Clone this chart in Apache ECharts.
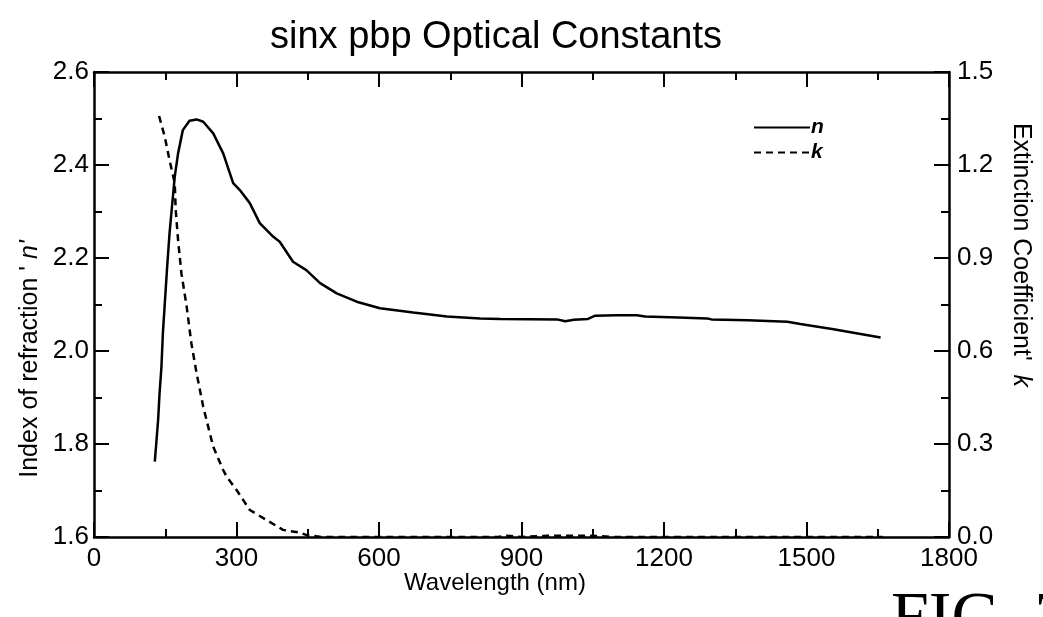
<!DOCTYPE html>
<html>
<head>
<meta charset="utf-8">
<script src="https://cdn.jsdelivr.net/npm/echarts@6/dist/echarts.min.js"></script>
<style>
html,body{margin:0;padding:0;background:#fff;}
#c{width:1043px;height:617px;}
</style>
</head>
<body>
<div id="c"></div>
<script>
// Data
var titleText = 'sinx pbp Optical Constants';
var xTicks = [0, 300, 600, 900, 1200, 1500, 1800];
var nTicks = [1.6, 1.8, 2.0, 2.2, 2.4, 2.6];
var kTicks = [0.0, 0.3, 0.6, 0.9, 1.2, 1.5];

var nWavelength = [128,135,138,142,145,154,159,170,177,187,201,216,230,251,272,293,307,328,349,377,391,419,447,476,511,553,602,672,743,813,855,975,992,1010,1040,1055,1100,1143,1160,1230,1291,1300,1376,1460,1487,1557,1656];
var nValues =     [1.762,1.852,1.909,1.966,2.038,2.181,2.253,2.375,2.425,2.475,2.495,2.498,2.493,2.468,2.425,2.361,2.346,2.318,2.275,2.246,2.235,2.192,2.174,2.146,2.124,2.106,2.092,2.083,2.074,2.070,2.069,2.068,2.064,2.067,2.069,2.076,2.077,2.077,2.074,2.072,2.070,2.068,2.066,2.063,2.058,2.047,2.029];

var kWavelength = [137,149,159,170,172,177,184,195,205,216,230,251,272,279,300,328,363,398,433,448,480,600,850,870,900,955,1000,1045,1100,1660];
var kValues =     [1.358,1.291,1.216,1.141,1.055,0.958,0.851,0.744,0.625,0.528,0.420,0.291,0.216,0.195,0.152,0.087,0.055,0.023,0.014,0.006,0.0,0.0,0.0,0.004,0.0,0.004,0.004,0.004,0.0,0.0];

function pairs(xs, ys){ return xs.map(function(x,i){ return [x, ys[i]]; }); }

var font = '"Liberation Sans", Arial, sans-serif';
var chart = echarts.init(document.getElementById('c'));
var axisLine = {show:true, onZero:false, lineStyle:{color:'#000', width:2.5}};
var tickStyle = {color:'#000', width:2};
var majorTick = {show:true, inside:true, length:15, lineStyle:tickStyle};
var minorTick = {show:true, splitNumber:2, length:8, lineStyle:tickStyle};
chart.setOption({
  animation:false,
  backgroundColor:'#fff',
  title:{text:titleText, left:491, top:14, textAlign:'center',
    textStyle:{fontFamily:font, fontSize:38, fontWeight:'normal', color:'#000'}},
  legend:{
    left:748, top:112, orient:'vertical', itemWidth:56, itemHeight:18, itemGap:4,
    itemStyle:{opacity:0},
    textStyle:{fontFamily:font, fontSize:21, fontStyle:'italic', fontWeight:'bold', color:'#000', padding:[0,0,0,-4]},
    data:[{name:'n'},{name:'k'}]
  },
  grid:{left:94, right:94, top:72, bottom:80, containLabel:false},
  xAxis:[{
    type:'value', position:'bottom', min:xTicks[0], max:xTicks[xTicks.length-1], interval:300,
    axisLine:axisLine, axisTick:majorTick, minorTick:minorTick,
    axisLabel:{fontFamily:font, fontSize:26, color:'#000', margin:9, formatter:function(v){return String(v);}},
    splitLine:{show:false}, minorSplitLine:{show:false}
  },{
    type:'value', position:'top', min:xTicks[0], max:xTicks[xTicks.length-1], interval:300,
    axisLine:axisLine, axisTick:majorTick, minorTick:minorTick,
    axisLabel:{show:false},
    splitLine:{show:false}, minorSplitLine:{show:false}
  }],
  yAxis:[{
    type:'value', position:'left', min:nTicks[0], max:nTicks[nTicks.length-1], interval:0.2,
    axisLine:axisLine, axisTick:majorTick, minorTick:minorTick,
    axisLabel:{fontFamily:font, fontSize:26, color:'#000', margin:5, formatter:function(v){return v.toFixed(1);}},
    splitLine:{show:false}, minorSplitLine:{show:false}
  },{
    type:'value', position:'right', min:kTicks[0], max:kTicks[kTicks.length-1], interval:0.3,
    axisLine:axisLine, axisTick:majorTick, minorTick:minorTick,
    axisLabel:{fontFamily:font, fontSize:26, color:'#000', margin:8, formatter:function(v){return v.toFixed(1);}},
    splitLine:{show:false}, minorSplitLine:{show:false}
  }],
  series:[{
    name:'n', type:'line', xAxisIndex:0, yAxisIndex:0, symbol:'none',
    data:pairs(nWavelength, nValues),
    lineStyle:{color:'#000', width:2.5}, itemStyle:{color:'#000'}
  },{
    name:'k', type:'line', xAxisIndex:0, yAxisIndex:1, symbol:'none',
    data:pairs(kWavelength, kValues),
    lineStyle:{color:'#000', width:2.5, type:[7,5]}, itemStyle:{color:'#000'}
  }],
  graphic:[{
    type:'text', x:495, y:583,
    style:{text:'Wavelength (nm)', fontFamily:font, fontSize:24, fill:'#000', align:'center', verticalAlign:'middle'}
  },{
    type:'text', x:30, y:359, rotation:Math.PI/2,
    style:{text:'{a|Index of refraction \' }{b|n\'}', fontFamily:font, fontSize:25, fill:'#000', align:'center', verticalAlign:'middle',
      rich:{a:{fontFamily:font, fontSize:25, fill:'#000'}, b:{fontFamily:font, fontSize:25, fontStyle:'italic', fill:'#000'}}}
  },{
    type:'text', x:1021, y:255, rotation:-Math.PI/2,
    style:{text:'{a|Extinction Coefficient\'  }{b|k}', fontFamily:font, fontSize:25, fill:'#000', align:'center', verticalAlign:'middle',
      rich:{a:{fontFamily:font, fontSize:25, fill:'#000'}, b:{fontFamily:font, fontSize:25, fontStyle:'italic', fill:'#000'}}}
  },{
    type:'text', left:891, top:586,
    style:{text:'FIG. 7', fontFamily:'"Liberation Serif", "Times New Roman", serif', fontSize:68, fill:'#000'}
  }]
});
</script>
</body>
</html>
